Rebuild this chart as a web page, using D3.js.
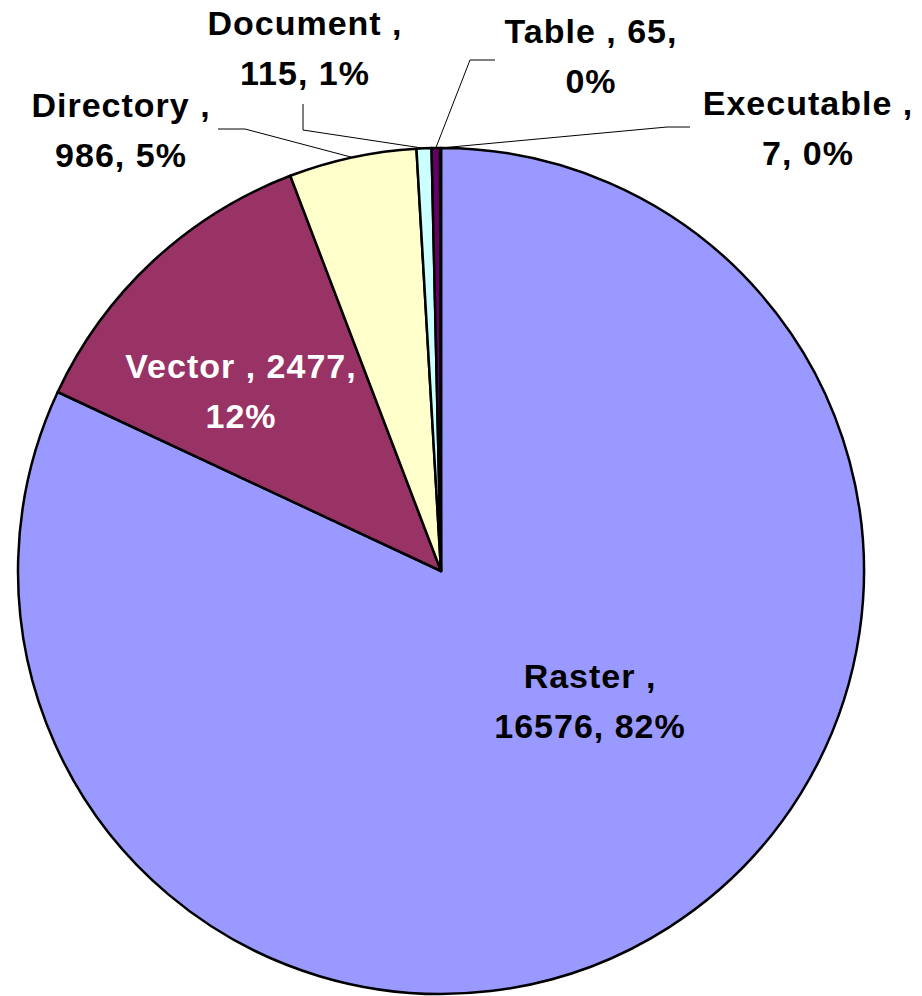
<!DOCTYPE html>
<html>
<head>
<meta charset="utf-8">
<script src="https://cdn.jsdelivr.net/npm/d3@7"></script>
<style>
  html, body { margin: 0; padding: 0; background: #ffffff; }
  svg { display: block; }
  text { font-family: "Liberation Sans", Arial, sans-serif; font-weight: bold; }
</style>
</head>
<body>
<svg id="chart" width="922" height="996"></svg>
<script>
// File type counts, drawn clockwise from 12 o'clock
const categories = ["Raster", "Vector", "Directory", "Document", "Table", "Executable"];
const counts = [16576, 2477, 986, 115, 65, 7];
const colors = ["#9999FF", "#993366", "#FFFFCC", "#CCFFFF", "#660066", "#FF8080"];

const svg = d3.select("#chart");
const cx = 441, cy = 571, R = 423;
const total = d3.sum(counts);

const data = categories.map((c, i) => ({ name: c, value: counts[i], color: colors[i] }));

const pie = d3.pie().value(d => d.value).sort(null);
const arcs = pie(data);
const arc = d3.arc().innerRadius(0).outerRadius(R);

const g = svg.append("g").attr("transform", `translate(${cx},${cy})`);

g.selectAll("path.slice")
  .data(arcs)
  .join("path")
  .attr("class", "slice")
  .attr("d", arc)
  .attr("fill", d => d.data.color)
  .attr("stroke", "#000")
  .attr("stroke-width", 2.5)
  .attr("stroke-linejoin", "round");

// point on the rim at the middle of a slice
function rimPoint(a) {
  const m = (a.startAngle + a.endAngle) / 2;
  return [cx + R * Math.sin(m), cy - R * Math.cos(m)];
}

// Label placement: centre x, first baseline, text colour, leader path (label side)
const labelLayout = {
  Raster:     { x: 590, y: 688, fill: "#000" },
  Vector:     { x: 241, y: 378, fill: "#fff" },
  Directory:  { x: 121, y: 117, fill: "#000", leader: [[218, 129], [245, 129]] },
  Document:   { x: 305, y: 35,  fill: "#000", leader: [[303, 104], [303, 130]] },
  Table:      { x: 591, y: 43,  fill: "#000", leader: [[495, 60], [470, 60]] },
  Executable: { x: 808, y: 115, fill: "#000", leader: [[690, 127], [667, 127]] }
};

const pct = v => Math.round(v / total * 100) + "%";

// Vector and Table keep their value on the first line with the name
function labelLines(d) {
  const name = d.data.name, v = d.data.value;
  if (name === "Vector" || name === "Table") return [`${name} , ${v},`, pct(v)];
  return [`${name} ,`, `${v}, ${pct(v)}`];
}

const line = d3.line();
arcs.forEach(a => {
  const L = labelLayout[a.data.name];
  if (L.leader) {
    svg.append("path")
      .attr("d", line([...L.leader, rimPoint(a)]))
      .attr("fill", "none")
      .attr("stroke", "#000")
      .attr("stroke-width", 1);
  }
});

arcs.forEach(a => {
  const L = labelLayout[a.data.name];
  const t = svg.append("text")
    .attr("text-anchor", "middle")
    .attr("fill", L.fill)
    .attr("font-size", 34)
    .attr("letter-spacing", 1);
  labelLines(a).forEach((s, i) => {
    t.append("tspan").attr("x", L.x).attr("y", L.y + i * 50).text(s);
  });
});
</script>
</body>
</html>
